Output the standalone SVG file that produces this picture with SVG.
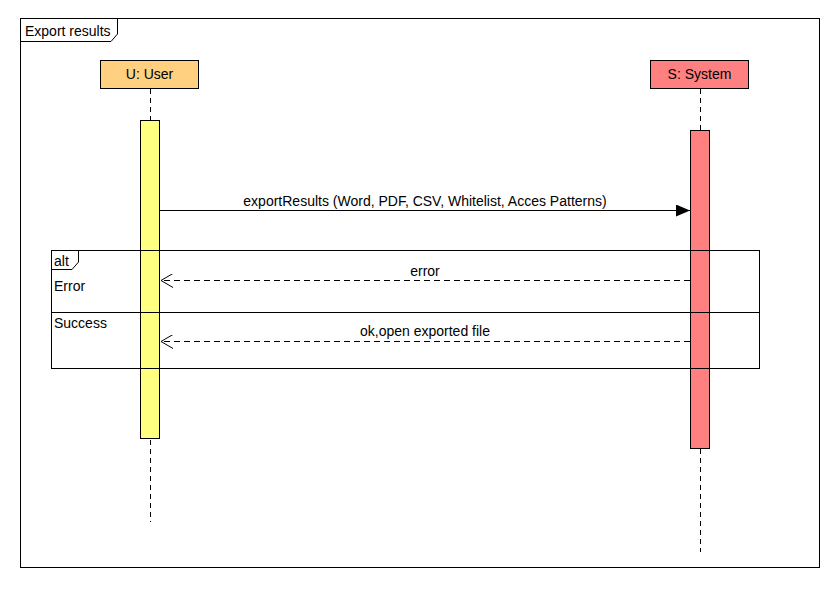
<svg xmlns="http://www.w3.org/2000/svg" width="840" height="590" viewBox="0 0 840 590">
<style>
text{font-family:"Liberation Sans",Arial,sans-serif;font-size:14px;fill:#000}
.frame{fill:none;stroke:#000;stroke-width:1}
.life{stroke:#000;stroke-width:1;stroke-dasharray:5,4;fill:none}
.msg{stroke:#000;stroke-width:1;fill:none}
.ret{stroke:#000;stroke-width:1;stroke-dasharray:6,4;fill:none}
</style>
<defs>
<marker id="filled" markerWidth="14" markerHeight="12" refX="14" refY="6" orient="auto" markerUnits="userSpaceOnUse">
<path d="M0,0 L14,6 L0,12 Z" fill="#000"/>
</marker>
<marker id="open" markerWidth="13" markerHeight="14" refX="12" refY="7" orient="auto" markerUnits="userSpaceOnUse">
<path d="M0,0 L12,7 L0,14" fill="none" stroke="#000" stroke-width="1"/>
</marker>
</defs>
<rect width="840" height="590" fill="#fff"/>
<g id="frame">
<rect class="frame" x="20.5" y="18.5" width="799" height="549"/>
<path class="frame" d="M20.5,41.5 H111 L117.5,34 V18.5"/>
<text x="25" y="36">Export results</text>
</g>
<g id="user">
<line class="life" x1="150.5" y1="89" x2="150.5" y2="522"/>
<rect x="100.5" y="60.5" width="98" height="28" fill="#FFD080" stroke="#000"/>
<text x="149.5" y="79" text-anchor="middle">U: User</text>
<rect x="140.5" y="120.5" width="19" height="318" fill="#FFFF80" stroke="#000"/>
</g>
<g id="system">
<line class="life" x1="700.5" y1="89" x2="700.5" y2="552"/>
<rect x="650.5" y="60.5" width="98" height="28" fill="#FF8080" stroke="#000"/>
<text x="699.5" y="79" text-anchor="middle">S: System</text>
<rect x="690.5" y="130.5" width="19" height="318" fill="#FF8080" stroke="#000"/>
</g>
<g id="alt">
<rect class="frame" x="51.5" y="250.5" width="708" height="118"/>
<path class="frame" d="M51.5,269.5 H72 L78.5,262 V250.5"/>
<line class="frame" x1="51.5" y1="312.5" x2="759.5" y2="312.5"/>
<text x="54" y="266">alt</text>
<text x="54" y="291">Error</text>
<text x="54" y="328">Success</text>
</g>
<g id="connectors">
<line class="msg" x1="160" y1="210.5" x2="690" y2="210.5" marker-end="url(#filled)"/>
<text x="425" y="206" text-anchor="middle">exportResults (Word, PDF, CSV, Whitelist, Acces Patterns)</text>
<line class="ret" x1="690" y1="280.5" x2="161" y2="280.5" marker-end="url(#open)"/>
<text x="425" y="276" text-anchor="middle">error</text>
<line class="ret" x1="690" y1="341.5" x2="161" y2="341.5" marker-end="url(#open)"/>
<text x="425" y="336" text-anchor="middle">ok,open exported file</text>
</g>
</svg>
